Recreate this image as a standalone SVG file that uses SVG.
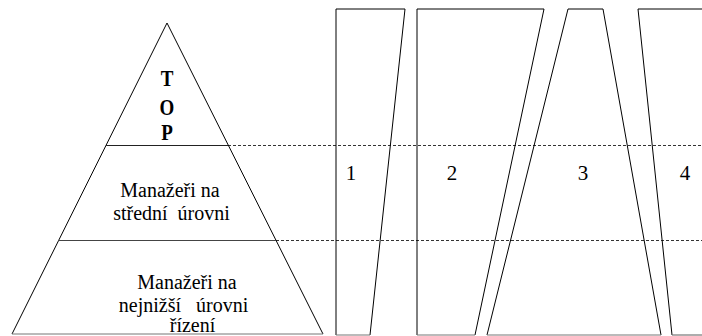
<svg xmlns="http://www.w3.org/2000/svg" width="702" height="336" viewBox="0 0 702 336">
<style>
.ln{fill:none;stroke:#000;stroke-width:1}
.gr{fill:none;stroke:#777;stroke-width:1.2}
.ds{fill:none;stroke:#333;stroke-width:1;stroke-dasharray:3,2}
.lbl{font-family:"Liberation Serif","Times New Roman",serif;text-anchor:middle;fill:#000}
</style>
<rect width="702" height="336" fill="#fff"/>
<g id="connectors">
<line class="ds" x1="228" y1="145.5" x2="702" y2="145.5"/>
<line class="ds" x1="276" y1="240.5" x2="702" y2="240.5"/>
</g>
<g id="pyramid">
<polyline class="ln" points="12,334 167,23 323,334"/>
<line class="gr" x1="12" y1="334" x2="323" y2="334"/>
<line x1="106" y1="145.5" x2="228" y2="145.5" stroke="#222" stroke-width="1.2"/>
<line x1="58" y1="240.5" x2="276" y2="240.5" stroke="#444" stroke-width="1.2"/>
</g>
<g id="top" class="lbl" font-size="19" font-weight="bold">
<text transform="translate(167,86) scale(1,1.25)">T</text>
<text transform="translate(167,114.5) scale(1,1.25)">O</text>
<text transform="translate(167,140) scale(1,1.25)">P</text>
</g>
<g id="middle" class="lbl" font-size="20">
<text x="170" y="197">Manažeři na</text>
<text x="171.5" y="220" xml:space="preserve">střední  úrovni</text>
</g>
<g id="bottom" class="lbl" font-size="20">
<text x="187" y="289">Manažeři na</text>
<text x="183.5" y="312" xml:space="preserve">nejnižší   úrovni</text>
<text x="192.5" y="332">řízení</text>
</g>
<g id="shape1">
<polyline class="ln" points="336,335 336,9 405,9 370,335"/>
<line class="gr" x1="336" y1="335" x2="370" y2="335"/>
<text class="lbl" font-size="21" x="351" y="180">1</text>
</g>
<g id="shape2">
<polyline class="ln" points="417,335 417,9 544,9 475,335"/>
<line class="gr" x1="417" y1="335" x2="475" y2="335"/>
<text class="lbl" font-size="21" x="452" y="180">2</text>
</g>
<g id="shape3">
<polyline class="ln" points="487,335 568,9 603,9 661,335"/>
<line class="gr" x1="487" y1="335" x2="661" y2="335"/>
<text class="lbl" font-size="21" x="583" y="180">3</text>
</g>
<g id="shape4">
<polyline class="ln" points="702,9 638,9 672,335"/>
<line class="gr" x1="672" y1="335" x2="702" y2="335"/>
<text class="lbl" font-size="21" x="685" y="180">4</text>
</g>
</svg>
